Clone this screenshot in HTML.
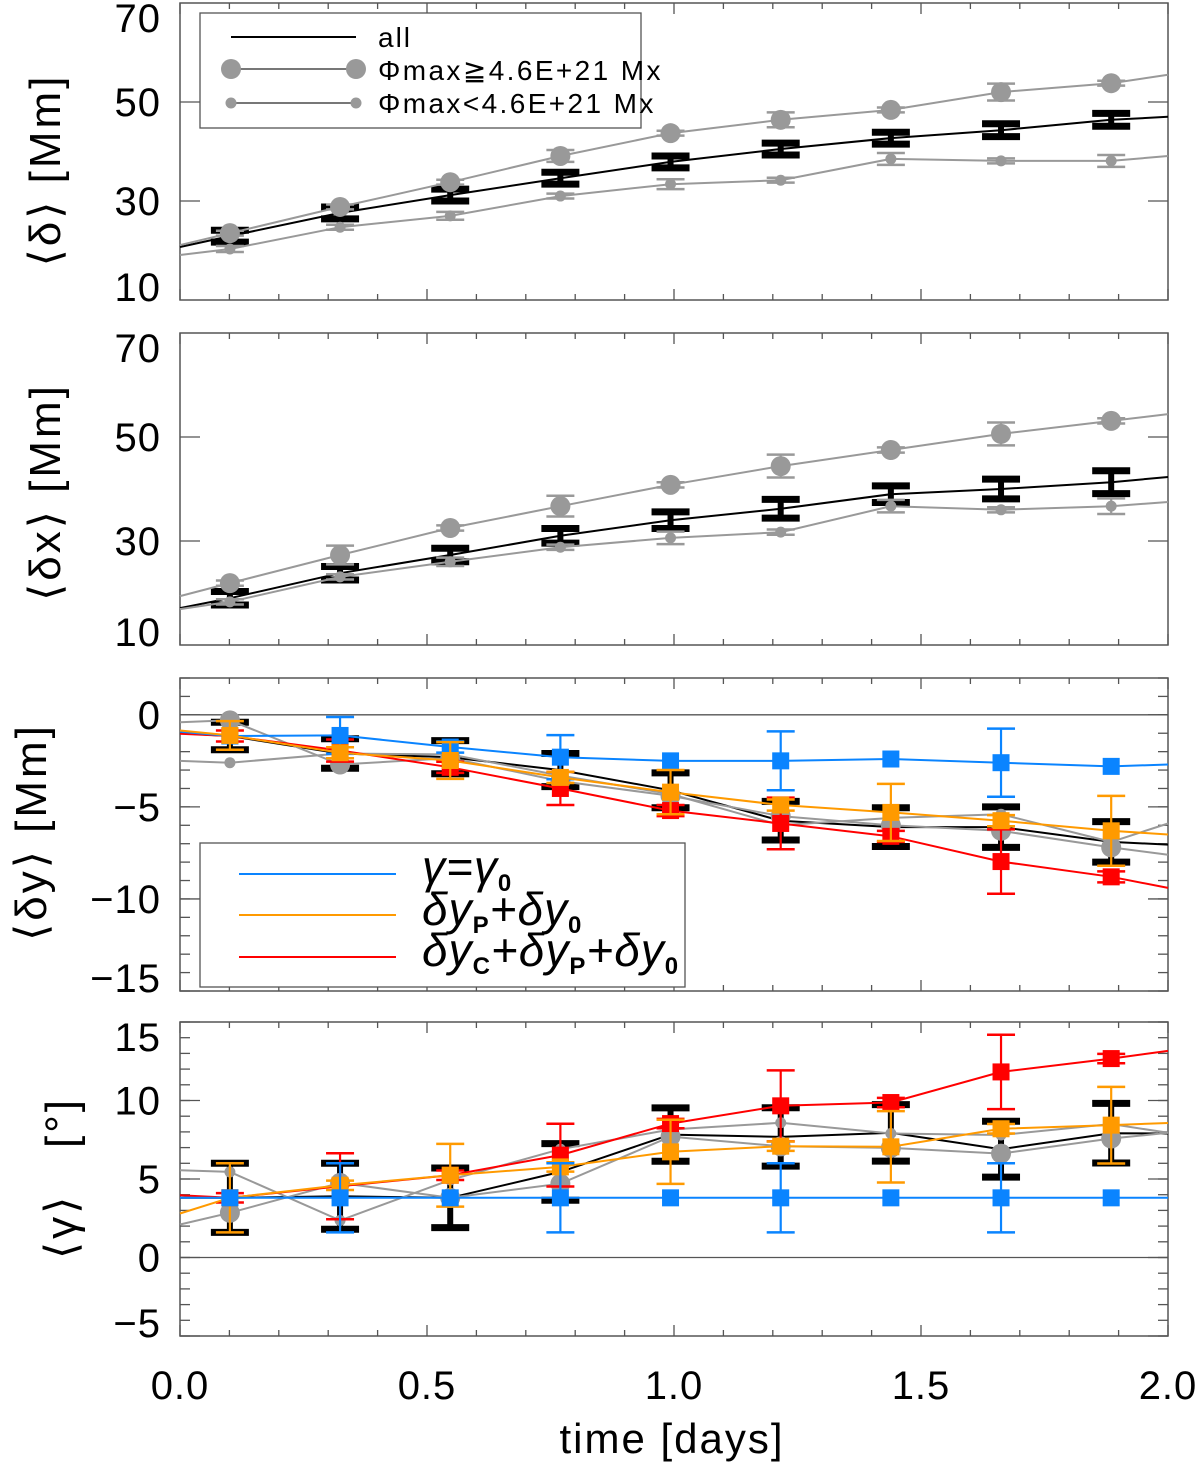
<!DOCTYPE html>
<html><head><meta charset="utf-8"><style>
html,body{margin:0;padding:0;background:#fff;}
svg{display:block;font-family:"Liberation Sans","DejaVu Sans",sans-serif;}
</style></head><body>
<svg id="chart" width="1200" height="1466" viewBox="0 0 1200 1466" xmlns="http://www.w3.org/2000/svg"></svg>
<script>
// ---------- data ----------
const times = [0.101,0.324,0.547,0.770,0.993,1.216,1.439,1.662,1.885];
const xTicks = [0.0,0.5,1.0,1.5,2.0];
const xTickLabels = ["0.0","0.5","1.0","1.5","2.0"];
// line values: index 0 = t=0 edge, 1..9 = times, 10 = t=2 edge
const p1All   = [20.7,22.9,27.6,31.2,34.6,37.9,40.5,42.7,44.3,46.4,47.0];
const p1AllErr= [1.2,1.2,1.2,1.2,1.2,1.2,1.2,1.3,1.3];
const p1Big   = [21.1,23.5,28.8,33.8,39.1,43.7,46.4,48.4,52.0,53.8,55.5];
const p1BigErr= [0.5,0.5,0.5,1.2,0.5,1.5,0.5,1.7,0.5];
const p1Small = [19.1,20.3,24.7,27.0,31.0,33.4,34.2,38.5,38.1,38.1,39.1];
const p1SmallErr=[0.6,0.5,0.8,0.5,1.0,0.5,1.2,0.5,1.2];

const p2All   = [17.1,19.0,23.8,27.3,31.0,34.0,36.2,39.0,40.0,41.3,42.3];
const p2AllErr= [1.3,1.3,1.3,1.4,1.6,1.8,1.6,1.9,2.2];
const p2Big   = [19.4,21.9,27.3,32.5,36.7,40.8,44.4,47.5,50.6,53.1,54.4];
const p2BigErr= [0.5,1.8,0.5,2.0,0.5,2.2,0.5,2.2,0.5];
const p2Small = [16.9,18.3,23.1,26.0,28.8,30.6,31.7,36.7,36.0,36.7,37.5];
const p2SmallErr=[0.5,0.5,0.8,0.5,1.2,0.5,1.2,0.5,1.5];

const p3All   = [-1.0,-1.15,-2.1,-2.3,-3.0,-4.1,-5.75,-6.1,-6.1,-6.9,-7.05];
const p3AllErr= [0.75,0.8,0.9,0.9,0.95,1.05,1.05,1.1,1.1];
const p3Big   = [-0.4,-0.3,-2.7,-2.35,-3.6,-4.4,-5.5,-6.0,-6.3,-7.2,-7.6];
const p3Small = [-2.5,-2.6,-2.1,-2.15,-3.3,-4.3,-6.0,-5.6,-5.4,-6.9,-5.9];
const p3Blue  = [-0.92,-1.15,-1.12,-1.75,-2.3,-2.5,-2.5,-2.4,-2.6,-2.8,-2.7];
const p3BlueErr=[0,1.0,0.3,1.2,0,1.6,0,1.85,0];
const p3Orange= [-0.85,-1.12,-2.06,-2.48,-3.4,-4.2,-4.9,-5.3,-5.75,-6.3,-6.5];
const p3OrangeErr=[0.78,0.3,1.0,0.3,1.2,0.3,1.55,0.3,1.9];
const p3Red   = [-1.03,-1.15,-1.94,-2.85,-4.0,-5.2,-5.9,-6.6,-7.97,-8.8,-9.4];
const p3RedErr= [0.3,0.6,0.3,0.9,0.3,1.4,0.3,1.75,0.3];

const p4All   = [3.8,3.8,3.9,3.8,5.45,7.83,7.68,7.94,6.9,7.92,7.9];
const p4AllErr= [2.2,2.1,1.9,1.8,1.7,1.86,1.8,1.78,1.9];
const p4Big   = [2.1,2.85,4.75,3.8,4.7,7.7,7.08,6.98,6.62,7.58,7.94];
const p4Small = [5.56,5.45,2.36,4.94,6.9,8.15,8.58,7.9,7.8,8.5,7.94];
const p4Blue  = [3.8,3.8,3.8,3.8,3.8,3.8,3.8,3.8,3.8,3.8,3.8];
const p4BlueErr=[0,2.2,0,2.2,0,2.2,0,2.2,0];
const p4Orange= [2.8,3.8,4.6,5.24,5.77,6.73,7.09,7.05,8.2,8.43,8.57];
const p4OrangeErr=[2.2,0.3,2.0,0.3,2.04,0.3,2.27,0.3,2.44];
const p4Red   = [3.97,3.8,4.54,5.24,6.52,8.53,9.66,9.87,11.82,12.67,13.16];
const p4RedErr= [0.3,2.1,0.3,2.0,0.3,2.26,0.3,2.37,0.3];

// ---------- drawing ----------
const NS="http://www.w3.org/2000/svg";
const svg=document.getElementById('chart');
function el(tag,attrs,parent,text){const e=document.createElementNS(NS,tag);for(const k in attrs)e.setAttribute(k,attrs[k]);if(text!==undefined)e.textContent=text;(parent||svg).appendChild(e);return e;}
const X0=180,X1=1168;
function xs(t){return X0+(t/2)*(X1-X0);}
const tLine=[0,...times,2];
const BLUE="#0a84ff",ORANGE="#ff9a00",RED="#ff0000",GRAY="#999999";

function makePanel(name,top,bot,vmin,vmax,majors,minorStep,labels){
  const g=el('g',{});  
  const ys=v=>bot-(v-vmin)/(vmax-vmin)*(bot-top);
  for(let i=0;i<=20;i++){const t=i*0.1,x=xs(t),len=(i%5===0)?11:6;
    el('line',{x1:x,x2:x,y1:bot,y2:bot-len,stroke:'#555','stroke-width':1.3},g);
    el('line',{x1:x,x2:x,y1:top,y2:top+len,stroke:'#555','stroke-width':1.3},g);}
  if(minorStep){for(let v=Math.ceil(vmin);v<=vmax;v+=minorStep){const y=ys(v);
    el('line',{x1:X0,x2:X0+10,y1:y,y2:y,stroke:'#555','stroke-width':1.3},g);
    el('line',{x1:X1,x2:X1-10,y1:y,y2:y,stroke:'#555','stroke-width':1.3},g);}}
  majors.forEach(v=>{const y=ys(v);
    el('line',{x1:X0,x2:X0+20,y1:y,y2:y,stroke:'#555','stroke-width':1.3},g);
    el('line',{x1:X1,x2:X1-20,y1:y,y2:y,stroke:'#555','stroke-width':1.3},g);});
  labels.forEach(([v,s])=>{let y=ys(v)+14; if(v===vmax)y=Math.max(y,top+29); if(v===vmin)y=Math.min(y,bot+1);
    const t=el('text',{x:161,y:y,'text-anchor':'end','font-size':40,fill:'#000','letter-spacing':1},g,s);
    });
  el('rect',{x:X0,y:top,width:X1-X0,height:bot-top,fill:'none',stroke:'#555','stroke-width':1.5},g);
  return {g,ys};
}
function line(p,vals,color,w,name){
  const pts=vals.map((v,i)=>xs(tLine[i]).toFixed(1)+','+p.ys(v).toFixed(1)).join(' ');
  const l=el('polyline',{points:pts,fill:'none',stroke:color,'stroke-width':w},p.g);
  
}
function blackErr(p,vals,errs,name){
  times.forEach((t,i)=>{const x=xs(t),v=vals[i+1],e=errs[i];const y1=p.ys(v+e),y2=p.ys(v-e);
    const g=el('g',{},p.g);
    el('line',{x1:x,x2:x,y1:y1,y2:y2,stroke:'#000','stroke-width':6},g);
    el('line',{x1:x-19,x2:x+19,y1:y1,y2:y1,stroke:'#000','stroke-width':7},g);
    el('line',{x1:x-19,x2:x+19,y1:y2,y2:y2,stroke:'#000','stroke-width':7},g);});
}
function colErr(p,vals,errs,color,name){
  times.forEach((t,i)=>{const e=errs[i];if(!e)return;const x=xs(t),v=vals[i+1];const y1=p.ys(v+e),y2=p.ys(v-e);
    const g=el('g',{},p.g);
    el('line',{x1:x,x2:x,y1:y1,y2:y2,stroke:color,'stroke-width':2.2},g);
    el('line',{x1:x-14,x2:x+14,y1:y1,y2:y1,stroke:color,'stroke-width':2.5},g);
    el('line',{x1:x-14,x2:x+14,y1:y2,y2:y2,stroke:color,'stroke-width':2.5},g);});
}
function circles(p,vals,r,name){
  times.forEach((t,i)=>{const c=el('circle',{cx:xs(t),cy:p.ys(vals[i+1]),r:r,fill:GRAY},p.g);
    });
}
function squares(p,vals,color,name){
  times.forEach((t,i)=>{const s=el('rect',{x:xs(t)-8.5,y:p.ys(vals[i+1])-8.5,width:17,height:17,fill:color},p.g);
    });
}
function zeroLine(p){el('line',{x1:X0,x2:X1,y1:p.ys(0),y2:p.ys(0),stroke:'#555','stroke-width':1.3},p.g);}

// Panel 1
const P1=makePanel('panel-delta',3,300,10,70,[30,50],0,[[70,'70'],[50,'50'],[30,'30'],[10,'10']]);
blackErr(P1,p1All,p1AllErr,'error-bar-all');
line(P1,p1All,'#000',2,'line-all');
colErr(P1,p1Big,p1BigErr,GRAY,'error-bar-large');
colErr(P1,p1Small,p1SmallErr,GRAY,'error-bar-small');
line(P1,p1Big,GRAY,2,'line-large-flux');
line(P1,p1Small,GRAY,2,'line-small-flux');
circles(P1,p1Big,10,'marker-large-flux');
circles(P1,p1Small,5.5,'marker-small-flux');
(function(){const g=el('g',{});
  el('rect',{x:200,y:13,width:441,height:115,fill:'#fff',stroke:'#555','stroke-width':1.3},g);
  el('line',{x1:231,x2:356,y1:37,y2:37,stroke:'#000','stroke-width':2},g);
  el('line',{x1:231,x2:356,y1:69,y2:69,stroke:'#777','stroke-width':2},g);
  el('circle',{cx:231,cy:69,r:10,fill:GRAY},g);el('circle',{cx:356,cy:69,r:10,fill:GRAY},g);
  el('line',{x1:231,x2:356,y1:103,y2:103,stroke:'#777','stroke-width':2},g);
  el('circle',{cx:231,cy:103,r:5.5,fill:GRAY},g);el('circle',{cx:356,cy:103,r:5.5,fill:GRAY},g);
  const a=el('text',{x:378,y:47,'font-size':28,'letter-spacing':2},g,'all');
  const b=el('text',{x:378,y:80,'font-size':28,'letter-spacing':2.4},g,'Φmax≧4.6E+21  Mx');
  const c=el('text',{x:378,y:113,'font-size':28,'letter-spacing':2.4},g,'Φmax<4.6E+21  Mx');
})();

// Panel 2
const P2=makePanel('panel-delta-x',333,645,10,70,[30,50],0,[[70,'70'],[50,'50'],[30,'30'],[10,'10']]);
blackErr(P2,p2All,p2AllErr,'error-bar-all');
line(P2,p2All,'#000',2,'line-all');
colErr(P2,p2Big,p2BigErr,GRAY,'error-bar-large');
colErr(P2,p2Small,p2SmallErr,GRAY,'error-bar-small');
line(P2,p2Big,GRAY,2,'line-large-flux');
line(P2,p2Small,GRAY,2,'line-small-flux');
circles(P2,p2Big,10,'marker-large-flux');
circles(P2,p2Small,5.5,'marker-small-flux');

// Panel 3
const P3=makePanel('panel-delta-y',678,991,-15,2,[0,-5,-10,-15],1,[[0,'0'],[-5,'−5'],[-10,'−10'],[-15,'−15']]);
zeroLine(P3);
blackErr(P3,p3All,p3AllErr,'error-bar-all');
line(P3,p3All,'#000',2,'line-all');
line(P3,p3Big,GRAY,2,'line-large-flux');
line(P3,p3Small,GRAY,2,'line-small-flux');
circles(P3,p3Big,10,'marker-large-flux');
circles(P3,p3Small,5.5,'marker-small-flux');
colErr(P3,p3Red,p3RedErr,RED,'error-bar-red');
line(P3,p3Red,RED,2,'line-dyc-dyp-dy0');
squares(P3,p3Red,RED,'marker-red');
colErr(P3,p3Blue,p3BlueErr,BLUE,'error-bar-blue');
line(P3,p3Blue,BLUE,2,'line-gamma0');
squares(P3,p3Blue,BLUE,'marker-blue');
colErr(P3,p3Orange,p3OrangeErr,ORANGE,'error-bar-orange');
line(P3,p3Orange,ORANGE,2,'line-dyp-dy0');
squares(P3,p3Orange,ORANGE,'marker-orange');
(function(){const g=el('g',{});
  el('rect',{x:200,y:843,width:485,height:144,fill:'#fff',stroke:'#555','stroke-width':1.3},g);
  el('line',{x1:239,x2:396,y1:874,y2:874,stroke:BLUE,'stroke-width':2},g);
  el('line',{x1:239,x2:396,y1:915,y2:915,stroke:ORANGE,'stroke-width':2},g);
  el('line',{x1:239,x2:396,y1:957,y2:957,stroke:RED,'stroke-width':2},g);
  const st='font-family:"Liberation Sans","DejaVu Sans",sans-serif;font-style:italic;font-size:46px;letter-spacing:1px';
  const sub='font-size:24px;font-style:normal;font-family:"Liberation Sans",sans-serif;font-weight:bold';
  const a=el('text',{x:422,y:883,style:st},g);
  a.innerHTML='γ=γ<tspan dy="8" style=\''+sub+'\'>0</tspan>';
  const b=el('text',{x:422,y:925,style:st},g);
  b.innerHTML='δy<tspan dy="8" style=\''+sub+'\'>P</tspan><tspan dy="-8">+δy</tspan><tspan dy="8" style=\''+sub+'\'>0</tspan>';
  const c=el('text',{x:422,y:966,style:st},g);
  c.innerHTML='δy<tspan dy="8" style=\''+sub+'\'>C</tspan><tspan dy="-8">+δy</tspan><tspan dy="8" style=\''+sub+'\'>P</tspan><tspan dy="-8">+δy</tspan><tspan dy="8" style=\''+sub+'\'>0</tspan>';
})();

// Panel 4
const P4=makePanel('panel-gamma',1022,1336,-5,15,[15,10,5,0,-5],1,[[15,'15'],[10,'10'],[5,'5'],[0,'0'],[-5,'−5']]);
zeroLine(P4);
blackErr(P4,p4All,p4AllErr,'error-bar-all');
line(P4,p4All,'#000',2,'line-all');
line(P4,p4Big,GRAY,2,'line-large-flux');
line(P4,p4Small,GRAY,2,'line-small-flux');
circles(P4,p4Big,10,'marker-large-flux');
circles(P4,p4Small,5.5,'marker-small-flux');
colErr(P4,p4Red,p4RedErr,RED,'error-bar-red');
line(P4,p4Red,RED,2,'line-dyc-dyp-dy0');
squares(P4,p4Red,RED,'marker-red');
colErr(P4,p4Orange,p4OrangeErr,ORANGE,'error-bar-orange');
line(P4,p4Orange,ORANGE,2,'line-dyp-dy0');
squares(P4,p4Orange,ORANGE,'marker-orange');
colErr(P4,p4Blue,p4BlueErr,BLUE,'error-bar-blue');
line(P4,p4Blue,BLUE,2,'line-gamma0');
squares(P4,p4Blue,BLUE,'marker-blue');

xTicks.forEach((t,i)=>{const tx=el('text',{x:xs(t),y:1399,'text-anchor':'middle','font-size':40,'letter-spacing':1},svg,xTickLabels[i]);
  });
const xt=el('text',{x:672,y:1453,'text-anchor':'middle','font-size':42,'letter-spacing':2},svg,'time [days]');


function ytitle(x,y,html,name){const t=el('text',{x:0,y:0,'text-anchor':'middle','font-size':44,transform:`translate(${x},${y}) rotate(-90)`,'letter-spacing':3});
  t.innerHTML=html;}
ytitle(60,170,'⟨δ⟩ [Mm]','y-axis-title-delta');
ytitle(60,492,'⟨δx⟩ [Mm]','y-axis-title-delta-x');
ytitle(46,832,'⟨δy⟩ [Mm]','y-axis-title-delta-y');
ytitle(76,1178,'⟨γ⟩ &#160;&#160;[°]','y-axis-title-gamma');
</script>
</body></html>
